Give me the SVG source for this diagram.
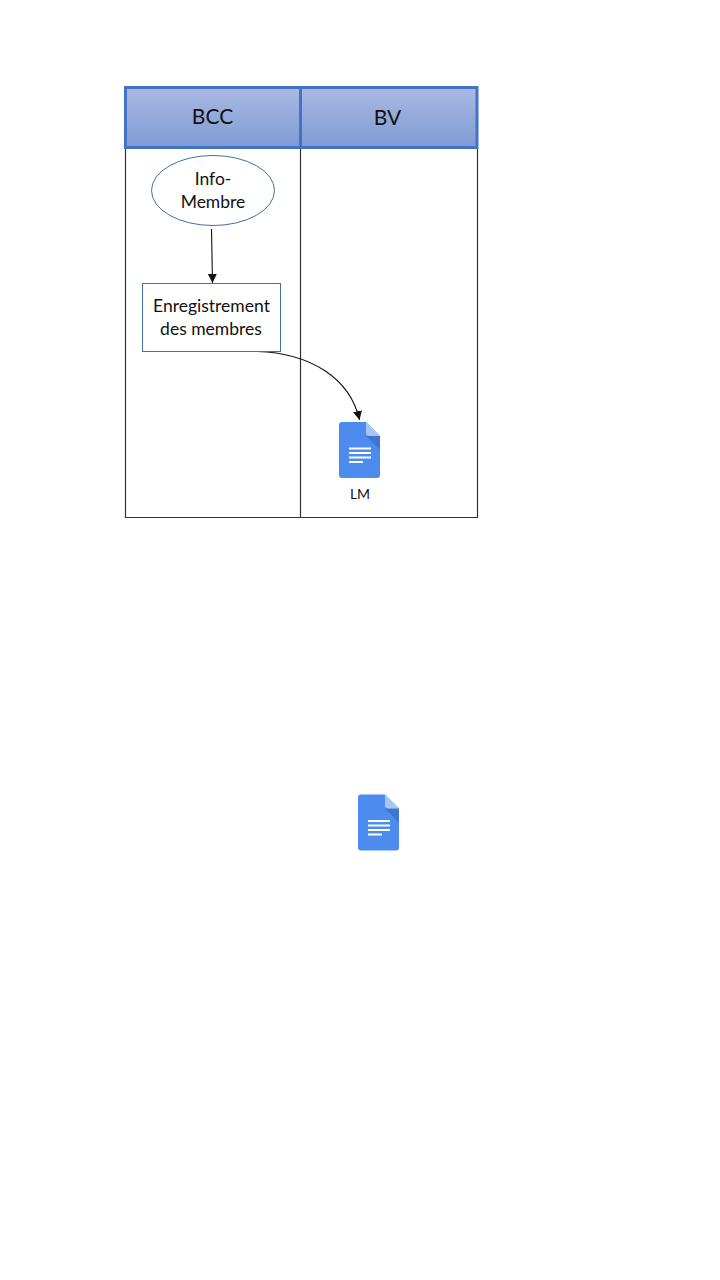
<svg xmlns="http://www.w3.org/2000/svg" width="720" height="1280" viewBox="0 0 720 1280">
<style>
text{font-family:Lato,"Liberation Sans",sans-serif;fill:#111;text-anchor:middle}
.hd{font-size:21px}
.lb{font-size:17.500px}
.grid{stroke:#333;stroke-width:1.200;fill:none}
.hdr{fill:url(#hg);stroke:#4472c4;stroke-width:3}
.node{fill:#fff;stroke:#41719c;stroke-width:1}
.conn{fill:none;stroke:#111;stroke-width:1.100}
</style>
<defs>
<linearGradient id="hg" x1="0" y1="0" x2="0" y2="1"><stop offset="0" stop-color="#a9b9e2"/><stop offset="1" stop-color="#7f9bd4"/></linearGradient>
<marker id="arr" markerUnits="userSpaceOnUse" markerWidth="10" markerHeight="10" refX="9" refY="4.500" orient="auto"><path d="M0 0L9 4.500L0 9Z" fill="#111"/></marker>
<symbol id="doc" viewBox="0 0 41 56" overflow="visible">
<path d="M3 0H27L41 14V53a3 3 0 0 1-3 3H3a3 3 0 0 1-3-3V3a3 3 0 0 1 3-3Z" fill="#4d8bef"/>
<path d="M27 14L41 28V14Z" fill="#3f74d0"/>
<path d="M27 0L41 14H30a3 3 0 0 1-3-3Z" fill="#a9c5f5"/>
<path d="M10 25.500H32V27.500H10ZM10 30H32V32H10ZM10 34.500H32V36.500H10ZM10 39H24V41H10Z" fill="#fff"/>
</symbol>
</defs>
<g id="lanes">
<path class="grid" d="M125.500 148V517.500H478M300.500 148V517.500M477.500 148V517.500"/>
<rect class="hdr" x="125.500" y="87.500" width="175" height="60"/>
<rect class="hdr" x="300.500" y="87.500" width="176.500" height="60"/>
<text class="hd" x="212.500" y="123.500">BCC</text>
<text class="hd" x="387.500" y="124.500">BV</text>
</g>
<g id="connectors">
<path class="conn" marker-end="url(#arr)" d="M211.500 229L212.500 283"/>
<path class="conn" marker-end="url(#arr)" d="M257 351.500C310 353 350 378 359.500 420"/>
</g>
<g id="info-membre">
<ellipse class="node" cx="213" cy="190.500" rx="61.500" ry="35"/>
<text class="lb" x="213" y="185">Info-</text>
<text class="lb" x="213" y="208">Membre</text>
</g>
<g id="enregistrement">
<rect class="node" x="142.500" y="283.500" width="138" height="68"/>
<text class="lb" x="211.500" y="312">Enregistrement</text>
<text class="lb" x="211" y="335">des membres</text>
</g>
<g id="doc-lm">
<use href="#doc" x="339" y="422" width="41" height="56"/>
<text x="360" y="498.500" font-size="14">LM</text>
</g>
<g id="doc-2">
<use href="#doc" x="358" y="794.500" width="41" height="56"/>
</g>
</svg>
